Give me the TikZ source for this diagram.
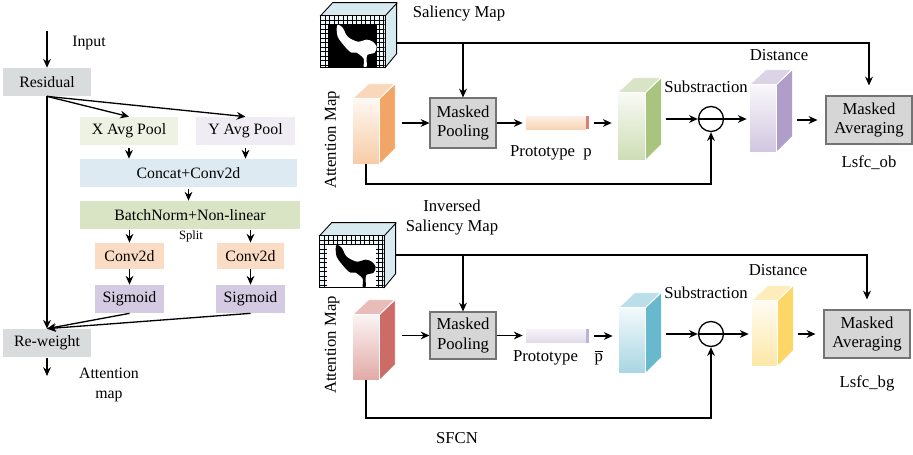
\documentclass[tikz,border=0pt]{standalone}
\usepackage{fontspec}
\setmainfont{Liberation Serif}
\usetikzlibrary{positioning,arrows.meta,calc}

\definecolor{resgray}{HTML}{D9DCDC}
\definecolor{xpoolc}{HTML}{EEF2E2}
\definecolor{ypoolc}{HTML}{EFECF3}
\definecolor{catc}{HTML}{DDEAF1}
\definecolor{bnc}{HTML}{D8E4C3}
\definecolor{convc}{HTML}{FADBC4}
\definecolor{sigc}{HTML}{D4CAE2}
\definecolor{opgray}{HTML}{D6D6D6}
\definecolor{salblue}{HTML}{D7EAF0}
\definecolor{cOrange}{HTML}{F2A665}
\definecolor{cGreen}{HTML}{A9C47F}
\definecolor{cPurple}{HTML}{B19DC9}
\definecolor{cRed}{HTML}{CD6B66}
\definecolor{cBlue}{HTML}{68B8CE}
\definecolor{cYellow}{HTML}{FCD667}

\tikzset{
  >={Stealth[length=5pt,width=4.4pt]},
  blk/.style={fill=#1, inner sep=0pt, font=\fontsize{9}{10}\selectfont},
  opbox/.style={draw=black!55, fill=opgray, line width=0.6pt, inner sep=0pt,
    align=center, font=\fontsize{9.5}{11}\selectfont},
  lbl/.style={inner sep=0pt, font=\fontsize{9.5}{11.5}\selectfont},
  link/.style={->, line width=0.75pt},
  subop/.style={draw, circle, line width=0.75pt, minimum size=0.5cm, inner sep=0pt,
    path picture={\draw[line width=0.75pt] (path picture bounding box.west) -- (path picture bounding box.east);}},
}

% feature block: name, front centre, width, height, colour
\newcommand{\featcube}[5]{%
  \node[inner sep=0pt, minimum width=#3, minimum height=#4] (#1) at #2 {};
  \filldraw[#5, draw=white, line width=0.4pt] (#1.north east) -- ++(0.32cm,0.3cm)
    -- ++(0cm,-#4) -- (#1.south east) -- cycle;
  \filldraw[#5!45, draw=white, line width=0.4pt] (#1.north west) -- ++(0.32cm,0.3cm)
    -- ++(#3,0cm) -- (#1.north east) -- cycle;
  \shadedraw[top color=#5!8, bottom color=#5!58, draw=white, line width=0.4pt]
    (#1.north west) rectangle (#1.south east);
}

% mask block: name, front centre, inside, figure
\newcommand{\salcube}[4]{%
  \node[inner sep=0pt, minimum width=1.28cm, minimum height=1.02cm] (#1) at #2 {};
  \filldraw[salblue, draw=black, line width=0.5pt] (#1.north west) -- ++(0.24cm,0.26cm)
    -- ++(1.28cm,0cm) -- ++(0cm,-1.02cm) -- (#1.south east) -- (#1.north east) -- cycle;
  \draw[line width=0.5pt] (#1.north east) -- ++(0.24cm,0.26cm);
  \begin{scope}[shift={(#1.north west)}]
    \clip (0,0) rectangle (64,51);
    \fill[salblue!45] (0,0) rectangle (64,51);
    \draw[line width=0.3pt, step=0.09cm] (0,0) grid (64,51);
    \fill[#3] (7,9) rectangle (56,51);
    \fill[#4] plot[smooth cycle] coordinates {(17,9) (22,12) (27,21) (37,26) (46,24)
      (52,26) (56,31) (54,37) (47,39) (46,43) (46,51) (43,51) (43,43) (36,37)
      (31,37) (27,34) (21,27) (17,21) (16,14)};
  \end{scope}
  \draw[line width=0.5pt] (#1.north west) rectangle (#1.south east);
}

\begin{document}
\begin{tikzpicture}[x=0.02cm, y=-0.02cm]
\useasboundingbox (0,0) rectangle (913,454);

% coordinate attention branch
\coordinate (inp) at (47,31);
\node[lbl, font=\fontsize{9}{10}\selectfont] (inlbl) at (89,43) {Input};
\node[blk=resgray, minimum width=1.76cm, minimum height=0.56cm] (res) at (47,82) {Residual};
\node[blk=xpoolc, minimum width=1.96cm, minimum height=0.56cm] (xp) at (129,131) {X Avg Pool};
\node[blk=ypoolc, minimum width=1.98cm, minimum height=0.56cm] (yp) at (245.5,131) {Y Avg Pool};
\node[blk=catc, minimum width=4.34cm, minimum height=0.56cm] (cat) at (188.5,173) {Concat+Conv2d};
\node[blk=bnc, minimum width=4.4cm, minimum height=0.56cm] (bn) at (190,215) {BatchNorm+Non-linear};
\node[lbl, font=\fontsize{7.2}{8}\selectfont] (split) at (191,236) {Split};
\node[blk=convc, minimum width=1.38cm, minimum height=0.52cm] (cvl) at (129.5,256) {Conv2d};
\node[blk=convc, minimum width=1.34cm, minimum height=0.52cm] (cvr) at (250.5,256) {Conv2d};
\node[blk=sigc, minimum width=1.38cm, minimum height=0.56cm] (sgl) at (129.5,299) {Sigmoid};
\node[blk=sigc, minimum width=1.38cm, minimum height=0.56cm] (sgr) at (250.5,299) {Sigmoid};
\node[blk=resgray, minimum width=1.76cm, minimum height=0.56cm] (rew) at (47,343) {Re-weight};
\coordinate (attout) at (47,376);
\node[lbl, align=center, font=\fontsize{9}{11.3}\selectfont] (attlbl) at (109,385) {Attention\\map};

\draw[link] (inp) -- (res.north);
\draw[link] (res.south) -- (xp.north);
\draw[link] (res.south) -- (yp.north);
\draw[link, shorten <=1.7pt] (xp.south) -- (xp.south |- cat.north);
\draw[link, shorten <=1.7pt] (yp.south) -- (yp.south |- cat.north);
\draw[link, shorten <=1.2pt] (cat.south) -- (cat.south |- bn.north);
\draw[link, shorten <=0.5pt] (cvl.north |- bn.south) -- (cvl.north);
\draw[link, shorten <=0.5pt] (cvr.north |- bn.south) -- (cvr.north);
\draw[link] (cvl.south) -- (sgl.north);
\draw[link] (cvr.south) -- (sgr.north);
\draw[link] (res.south) -- (rew.north);
\draw[link] (sgl.south) -- (rew.north);
\draw[link] (sgr.south) -- (rew.north);
\draw[link, shorten <=0.5pt] (rew.south) -- (attout);

% foreground branch
\salcube{sal1}{(353,41.5)}{black}{white}
\node[lbl] (sal1lbl) at (459,14) {Saliency Map};
\featcube{att1}{(366,131.5)}{0.52cm}{1.3cm}{cOrange}
\node[lbl, rotate=90] (att1lbl) at (332,140) {Attention Map};
\node[opbox, minimum width=1.32cm, minimum height=1.0cm] (mp1) at (463,123) {Masked\\Pooling};
\node[inner sep=0pt, minimum width=1.2cm, minimum height=0.26cm,
  top color=cOrange!18, bottom color=cOrange!48] (pr1) at (556,122.5) {};
\fill[cRed!85] (pr1.north east) rectangle ([xshift=0.06cm]pr1.south east);
\node[lbl] (pr1lbl) at (551,153) {Prototype\ \ p};
\featcube{gc1}{(631.5,126.5)}{0.54cm}{1.34cm}{cGreen}
\node[subop] (sub1) at (711,119) {};
\node[lbl] (sub1lbl) at (706,87) {Substraction};
\featcube{pc1}{(763,118.5)}{0.52cm}{1.34cm}{cPurple}
\node[lbl] (dist1lbl) at (779,55) {Distance};
\node[opbox, minimum width=1.72cm, minimum height=0.96cm] (ma1) at (869,120) {Masked\\Averaging};
\node[lbl] (loss1) at (869,163) {Lsfc\_ob};
\coordinate (loop1) at (366,184);

\coordinate (s1) at ([xshift=0.24cm,yshift=-0.03cm]sal1.east);
\draw[link, shorten >=0.2cm] (s1) -| (ma1.north);
\draw[link] (s1 -| mp1.north) -- (mp1.north);
\draw[link] ([xshift=0.46cm]att1.east |- mp1) -- (mp1.west);
\draw[link] (mp1.east) -- ([xshift=-0.06cm]mp1.east -| pr1.west);
\draw[link] ([xshift=0.16cm]pr1.east |- mp1) -- ([xshift=-0.12cm]mp1 -| gc1.west);
\draw[link] ([xshift=0.42cm]gc1.east |- sub1) -- (sub1.west);
\draw[link] (sub1.east) -- ([xshift=-0.06cm]sub1 -| pc1.west);
\draw[link, shorten >=0.16cm] ([xshift=0.42cm]pc1.east |- ma1) -- (ma1.west);
\draw[link] (att1.south) -- (loop1) -| (sub1.south);

% background branch
\salcube{sal2}{(352,261.5)}{white}{black}
\node[lbl, align=center, font=\fontsize{9.5}{11.9}\selectfont] (sal2lbl) at (452,217.5) {Inversed\\Saliency Map};
\featcube{att2}{(366,347.5)}{0.52cm}{1.3cm}{cRed}
\node[lbl, rotate=90] (att2lbl) at (332,345) {Attention Map};
\node[opbox, minimum width=1.32cm, minimum height=0.94cm] (mp2) at (463,335.5) {Masked\\Pooling};
\node[inner sep=0pt, minimum width=1.2cm, minimum height=0.26cm,
  top color=cPurple!12, bottom color=cPurple!38] (pr2) at (556,336) {};
\fill[cPurple!80] (pr2.north east) rectangle ([xshift=0.06cm]pr2.south east);
\node[lbl] (pr2lbl) at (558,358) {Prototype\hspace{1em}$\overline{\mbox{p}}$};
\featcube{gc2}{(632,340.5)}{0.52cm}{1.3cm}{cBlue}
\node[subop] (sub2) at (711,334) {};
\node[lbl] (sub2lbl) at (706,293) {Substraction};
\featcube{pc2}{(764.5,333.5)}{0.5cm}{1.3cm}{cYellow}
\node[lbl] (dist2lbl) at (778,270) {Distance};
\node[opbox, minimum width=1.72cm, minimum height=0.96cm] (ma2) at (867,334) {Masked\\Averaging};
\node[lbl] (loss2) at (867,383) {Lsfc\_bg};
\coordinate (loop2) at (366,418);
\node[lbl] (sfcn) at (457,438) {SFCN};

\coordinate (s2) at ([xshift=0.24cm,yshift=0.13cm]sal2.east);
\draw[link, shorten >=0.2cm] (s2) -| (ma2.north);
\draw[link] (s2 -| mp2.north) -- (mp2.north);
\draw[link] ([xshift=0.46cm]att2.east |- mp2) -- (mp2.west);
\draw[link] (mp2.east) -- ([xshift=-0.06cm]mp2.east -| pr2.west);
\draw[link] ([xshift=0.16cm]pr2.east) -- ([xshift=-0.12cm]pr2.east -| gc2.west);
\draw[link] ([xshift=0.42cm]gc2.east |- sub2) -- (sub2.west);
\draw[link] (sub2.east) -- ([xshift=-0.06cm]sub2 -| pc2.west);
\draw[link, shorten >=0.16cm] ([xshift=0.42cm]pc2.east |- ma2) -- (ma2.west);
\draw[link] (att2.south) -- (loop2) -| (sub2.south);
\end{tikzpicture}
\end{document}
